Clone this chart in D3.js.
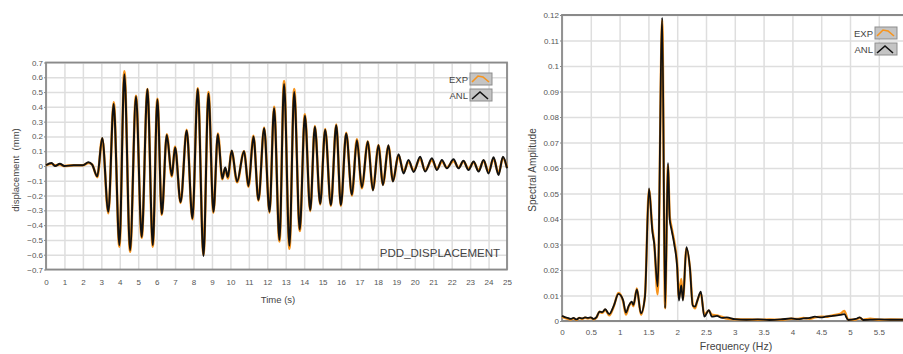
<!DOCTYPE html>
<html>
<head>
<meta charset="utf-8">
<script src="https://cdnjs.cloudflare.com/ajax/libs/d3/7.8.5/d3.min.js"></script>
<style>
  body { margin: 0; background: #fff; }
  svg { display: block; font-family: "Liberation Sans", Arial, sans-serif; }
  .tick text { fill: #555; font-size: 8px; }
  .grid line { stroke: #dedede; stroke-width: 1.5; }
  .grid .domain { display: none; }
</style>
</head>
<body>
<script>
// displacement record: times of turning points (s) and values (mm)
const dispTime = [0, 0.3, 0.5, 0.75, 1.0, 1.5, 2.0, 2.3, 2.5, 2.78, 3.05, 3.38, 3.67, 3.98, 4.25, 4.56, 4.88, 5.19, 5.5,
  5.79, 6.04, 6.28, 6.55, 6.82, 7.0, 7.3, 7.63, 7.94, 8.23, 8.54, 8.81, 9.08, 9.32, 9.56, 9.72, 9.86, 10.07, 10.36, 10.74,
  10.98, 11.25, 11.52, 11.83, 12.12, 12.37, 12.66, 12.91, 13.2, 13.46, 13.76, 14.04, 14.33, 14.58, 14.87, 15.14, 15.45,
  15.74, 15.99, 16.28, 16.59, 16.86, 17.13, 17.45, 17.73, 18.03, 18.27, 18.57, 18.81, 19.12, 19.39, 19.66, 19.94, 20.29,
  20.56, 20.93, 21.2, 21.47, 21.74, 22.1, 22.37, 22.64, 22.91, 23.19, 23.46, 23.73, 24.0, 24.27, 24.54, 24.78, 25.0];
const anlDisp = [0.005, 0.02, 0.0, 0.015, 0.0, 0.005, 0.005, 0.025, 0.01, -0.07, 0.19, -0.31, 0.42, -0.535, 0.62, -0.57, 0.47, -0.48, 0.52,
  -0.535, 0.45, -0.325, 0.21, -0.065, 0.125, -0.245, 0.24, -0.355, 0.52, -0.61, 0.49, -0.31, 0.215, -0.085, -0.01, -0.075, 0.105, -0.105, 0.1,
  -0.135, 0.2, -0.23, 0.255, -0.31, 0.39, -0.5, 0.555, -0.54, 0.5, -0.43, 0.34, -0.3, 0.265, -0.255, 0.245, -0.265,
  0.275, -0.265, 0.22, -0.195, 0.175, -0.145, 0.165, -0.165, 0.14, -0.13, 0.14, -0.105, 0.08, -0.05, 0.04, -0.04, 0.063,
  -0.038, 0.052, -0.027, 0.04, -0.016, 0.045, -0.016, 0.036, -0.027, 0.03, -0.038, 0.04, -0.05, 0.059, -0.061, 0.063, -0.015];
const expDisp = [0.005, 0.015, 0.005, 0.01, 0.0, 0.005, 0.005, 0.02, 0.01, -0.075, 0.185, -0.32, 0.43, -0.545, 0.64, -0.58, 0.475, -0.485, 0.52,
  -0.545, 0.455, -0.33, 0.215, -0.07, 0.13, -0.25, 0.245, -0.36, 0.525, -0.6, 0.5, -0.315, 0.22, -0.09, -0.015, -0.085, 0.1, -0.11, 0.1,
  -0.14, 0.205, -0.235, 0.26, -0.315, 0.4, -0.51, 0.575, -0.56, 0.52, -0.44, 0.35, -0.305, 0.27, -0.26, 0.25, -0.27,
  0.28, -0.27, 0.225, -0.2, 0.18, -0.15, 0.165, -0.16, 0.14, -0.125, 0.135, -0.1, 0.07, -0.04, 0.03, -0.03, 0.05,
  -0.03, 0.04, -0.02, 0.03, -0.01, 0.035, -0.01, 0.03, -0.02, 0.025, -0.03, 0.035, -0.04, 0.05, -0.05, 0.055, -0.01];

// spectrum
const freq = [0, 0.05, 0.1, 0.15, 0.2, 0.25, 0.3, 0.35, 0.4, 0.45, 0.5, 0.55, 0.6, 0.65, 0.7, 0.75, 0.82, 0.9, 0.98, 1.06,
  1.11, 1.16, 1.21, 1.24, 1.3, 1.37, 1.44, 1.51, 1.57, 1.6, 1.66, 1.74, 1.79, 1.84, 1.87, 1.9, 1.95, 2.0, 2.03, 2.07,
  2.1, 2.16, 2.22, 2.27, 2.31, 2.35, 2.41, 2.47, 2.55, 2.6, 2.69, 2.78, 2.86, 3.0, 3.2, 3.4, 3.6, 3.8, 3.98, 4.1,
  4.19, 4.3, 4.39, 4.5, 4.57, 4.7, 4.83, 4.9, 4.97, 5.1, 5.17, 5.23, 5.35, 5.5, 5.7, 5.95];
const anlAmp = [0.002, 0.0015, 0.0012, 0.0008, 0.0012, 0.0006, 0.0012, 0.001, 0.0014, 0.0012, 0.0014, 0.0008, 0.0015, 0.0037, 0.0035, 0.0046, 0.0027, 0.006, 0.0106, 0.0082,
  0.0033, 0.006, 0.0076, 0.0063, 0.0124, 0.003, 0.0095, 0.052, 0.035, 0.0305, 0.0135, 0.119, 0.005, 0.062, 0.04, 0.036, 0.03, 0.021, 0.008, 0.014,
  0.008, 0.029, 0.021, 0.006, 0.0056, 0.008, 0.0115, 0.0017, 0.0043, 0.0017, 0.002, 0.0012, 0.0014, 0.0007, 0.0005, 0.0006, 0.0004, 0.0006, 0.001, 0.0007,
  0.001, 0.0012, 0.0017, 0.0014, 0.0017, 0.002, 0.0024, 0.0027, 0.0004, 0.0008, 0.0014, 0.0004, 0.0005, 0.0006, 0.0005, 0.0005];
const expAmp = [0.0018, 0.0012, 0.0008, 0.0006, 0.001, 0.0005, 0.0012, 0.0008, 0.0013, 0.001, 0.0012, 0.0007, 0.0014, 0.0036, 0.0032, 0.0044, 0.0022, 0.0058, 0.011, 0.0078,
  0.0025, 0.0058, 0.0072, 0.0058, 0.0128, 0.0025, 0.0098, 0.0515, 0.036, 0.031, 0.0105, 0.118, 0.005, 0.061, 0.041, 0.037, 0.031, 0.022, 0.009, 0.0165,
  0.0085, 0.0285, 0.021, 0.0065, 0.005, 0.008, 0.011, 0.0025, 0.004, 0.0025, 0.0022, 0.0016, 0.001, 0.0007, 0.0006, 0.0005, 0.0006, 0.0005, 0.0009, 0.0008,
  0.0012, 0.0009, 0.0014, 0.0017, 0.0016, 0.0022, 0.0028, 0.0039, 0.0005, 0.0006, 0.0012, 0.0005, 0.0009, 0.0005, 0.0006, 0.0005];

const dispTicksY = d3.range(-7, 8).map(d => d / 10);
const dispTicksX = d3.range(0, 26);
const ampTicksY = d3.range(0, 13).map(d => d / 100);
const freqTicksX = d3.range(0, 12).map(d => d / 2);

const EXP_COLOR = "#f7941d";
const ANL_COLOR = "#111";

const svg = d3.select("body").append("svg")
  .attr("width", 903)
  .attr("height", 354);

function drawLegend(g, x, y) {
  const items = [
    { label: "EXP", color: EXP_COLOR, pts: [[2, 9], [8, 3], [13, 4], [19, 9]] },
    { label: "ANL", color: ANL_COLOR, pts: [[2, 10], [10, 3], [18, 10]] }
  ];
  items.forEach((it, i) => {
    const yy = y + i * 16;
    g.append("rect")
      .attr("x", x).attr("y", yy)
      .attr("width", 22).attr("height", 12)
      .attr("fill", "#c4c4c4")
      .attr("stroke", "#8d8d8d");
    g.append("polyline")
      .attr("points", it.pts.map(p => [x + p[0], yy + p[1]].join(",")).join(" "))
      .attr("fill", "none")
      .attr("stroke", it.color)
      .attr("stroke-width", 1.6);
    g.append("text")
      .attr("x", x - 2).attr("y", yy + 9.5)
      .attr("text-anchor", "end")
      .attr("font-size", 9.5)
      .attr("fill", "#444")
      .text(it.label);
  });
}

// ---------- left: displacement vs time ----------
{
  const x = d3.scaleLinear().domain([0, 25]).range([46, 507]);
  const y = d3.scaleLinear().domain([-0.7, 0.7]).range([269.5, 62.5]);
  const g = svg.append("g");

  g.append("g").attr("class", "grid")
    .attr("transform", "translate(0,269.5)")
    .call(d3.axisBottom(x).tickValues(dispTicksX).tickSize(-207).tickFormat(""));
  g.append("g").attr("class", "grid")
    .attr("transform", "translate(46,0)")
    .call(d3.axisLeft(y).tickValues(dispTicksY).tickSize(-461).tickFormat(""));

  g.append("rect")
    .attr("x", 46).attr("y", 62.5)
    .attr("width", 461).attr("height", 207)
    .attr("fill", "none")
    .attr("stroke", "#8a8a8a")
    .attr("stroke-width", 1.8);

  g.append("g")
    .attr("transform", "translate(46,0)")
    .call(d3.axisLeft(y).tickValues(dispTicksY).tickSize(2).tickPadding(1).tickFormat(d3.format("")))
    .call(s => s.select(".domain").remove())
    .call(s => s.selectAll(".tick line").attr("stroke", "#8a8a8a"));
  g.append("g")
    .attr("transform", "translate(0,269.5)")
    .call(d3.axisBottom(x).tickValues(dispTicksX).tickSize(0).tickPadding(10))
    .call(s => s.select(".domain").remove());

  const pts = dispTime.map((t, i) => [t, anlDisp[i], expDisp[i]]);
  const line = d3.line().curve(d3.curveMonotoneX);
  g.append("path")
    .attr("d", line.x(d => x(d[0])).y(d => y(d[2]))(pts))
    .attr("fill", "none").attr("stroke", EXP_COLOR).attr("stroke-width", 2.6);
  g.append("path")
    .attr("d", line.x(d => x(d[0])).y(d => y(d[1]))(pts))
    .attr("fill", "none").attr("stroke", ANL_COLOR).attr("stroke-width", 2);

  g.append("text")
    .attr("transform", "translate(19,170) rotate(-90)")
    .attr("text-anchor", "middle")
    .attr("font-size", 9.5)
    .attr("fill", "#444")
    .attr("xml:space", "preserve")
    .text("displacement  (mm)");
  g.append("text")
    .attr("x", 278).attr("y", 303)
    .attr("text-anchor", "middle")
    .attr("font-size", 9.5)
    .attr("fill", "#444")
    .text("Time (s)");
  g.append("text")
    .attr("x", 500).attr("y", 257)
    .attr("text-anchor", "end")
    .attr("font-size", 11.5)
    .attr("fill", "#444")
    .text("PDD_DISPLACEMENT");

  drawLegend(g, 470, 73);
}

// ---------- right: spectrum ----------
{
  const x = d3.scaleLinear().domain([0, 6]).range([562, 907.6]);
  const y = d3.scaleLinear().domain([0, 0.12]).range([321, 15]);
  const g = svg.append("g");

  g.append("g").attr("class", "grid")
    .attr("transform", "translate(0,321)")
    .call(d3.axisBottom(x).tickValues(freqTicksX).tickSize(-306).tickFormat(""));
  g.append("g").attr("class", "grid")
    .attr("transform", "translate(562,0)")
    .call(d3.axisLeft(y).tickValues(ampTicksY).tickSize(-346).tickFormat(""));

  g.append("path")
    .attr("d", `M${x(6)},15H562V321H${x(6)}`)
    .attr("fill", "none")
    .attr("stroke", "#8a8a8a")
    .attr("stroke-width", 1.8);

  g.append("g")
    .attr("transform", "translate(562,0)")
    .call(d3.axisLeft(y).tickValues(ampTicksY).tickSize(2).tickPadding(1).tickFormat(d3.format("")))
    .call(s => s.select(".domain").remove())
    .call(s => s.selectAll(".tick line").attr("stroke", "#8a8a8a"));
  g.append("g")
    .attr("transform", "translate(0,321)")
    .call(d3.axisBottom(x).tickValues(freqTicksX).tickSize(0).tickPadding(8).tickFormat(d3.format("")))
    .call(s => s.select(".domain").remove());

  const pts = freq.map((f, i) => [f, anlAmp[i], expAmp[i]]);
  const line = d3.line().curve(d3.curveMonotoneX);
  g.append("path")
    .attr("d", line.x(d => x(d[0])).y(d => y(d[2]))(pts))
    .attr("fill", "none").attr("stroke", EXP_COLOR).attr("stroke-width", 2.4);
  g.append("path")
    .attr("d", line.x(d => x(d[0])).y(d => y(d[1]))(pts))
    .attr("fill", "none").attr("stroke", ANL_COLOR).attr("stroke-width", 1.8);

  g.append("text")
    .attr("transform", "translate(536,170) rotate(-90)")
    .attr("text-anchor", "middle")
    .attr("font-size", 10)
    .attr("fill", "#444")
    .text("Spectral Amplitude");
  g.append("text")
    .attr("x", 736).attr("y", 350)
    .attr("text-anchor", "middle")
    .attr("font-size", 10.5)
    .attr("fill", "#444")
    .text("Frequency (Hz)");

  drawLegend(g, 875, 27);
}
</script>
</body>
</html>
